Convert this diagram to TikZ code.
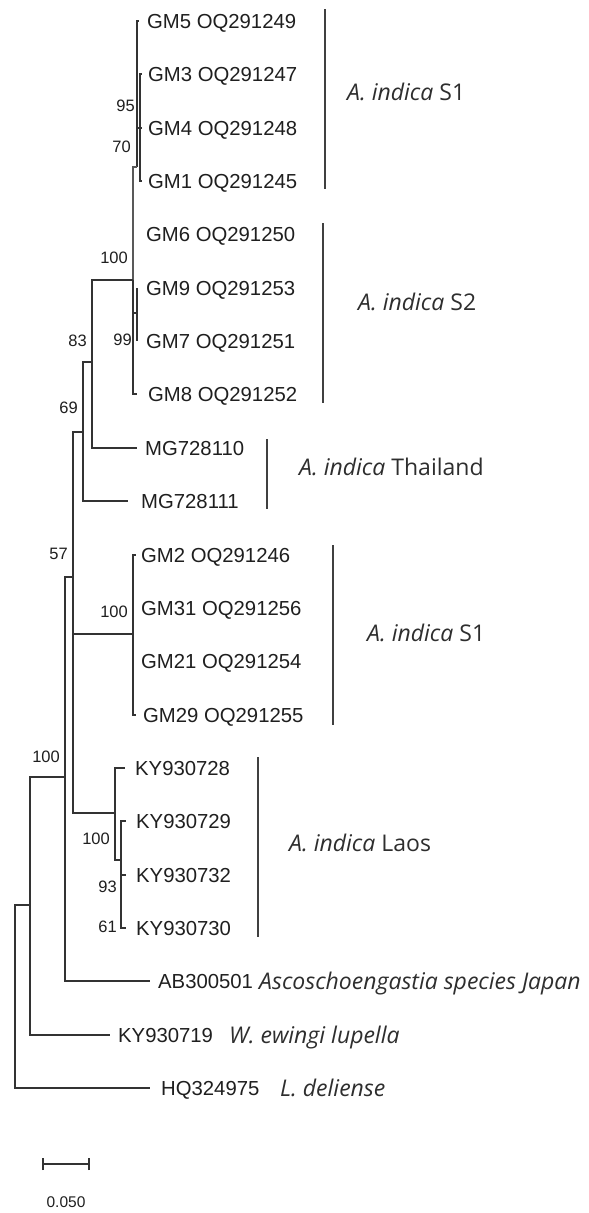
\documentclass[tikz,border=0pt]{standalone}
\usepackage{fontspec}
\setmainfont{Liberation Sans}
\newfontfamily\cladefont{Open Sans}
\begin{document}
\begin{tikzpicture}[x=1pt,y=-1pt,
  br/.style={draw=black!80, line width=1.1pt},
  thickbr/.style={draw=black!80, line width=2.2pt},
  leaf/.style={anchor=west, inner sep=0pt, font=\fontsize{20.3}{20}\selectfont, text height=14.5pt, text depth=0pt, text=black!88},
  boot/.style={anchor=east, inner sep=0pt, font=\fontsize{16.5}{16.5}\selectfont, text height=11.8pt, text depth=0pt, text=black!88},
  clade/.style={anchor=west, inner sep=0pt, font=\cladefont\fontsize{23}{23}\selectfont, text height=16pt, text depth=0pt, text=black!82},
  bar/.style={draw=black!75, line width=1.6pt}]

\fill[white] (0,0) rectangle (589,1213);
\useasboundingbox (0,0) rectangle (589,1213);

% ---------- leaf labels ----------
\node[leaf] (GM5)  at (147,21)  {GM5 OQ291249};
\node[leaf] (GM3)  at (148,74)  {GM3 OQ291247};
\node[leaf] (GM4)  at (148,128) {GM4 OQ291248};
\node[leaf] (GM1)  at (148,181) {GM1 OQ291245};
\node[leaf] (GM6)  at (146,234) {GM6 OQ291250};
\node[leaf] (GM9)  at (146,288) {GM9 OQ291253};
\node[leaf] (GM7)  at (146,341) {GM7 OQ291251};
\node[leaf] (GM8)  at (148,394) {GM8 OQ291252};
\node[leaf] (MG0)  at (145,448) {MG728110};
\node[leaf] (MG1)  at (141,501) {MG728111};
\node[leaf] (GM2)  at (141,555) {GM2 OQ291246};
\node[leaf] (GM31) at (141,608) {GM31 OQ291256};
\node[leaf] (GM21) at (141,661) {GM21 OQ291254};
\node[leaf] (GM29) at (143,715) {GM29 OQ291255};
\node[leaf] (K728) at (135,768) {KY930728};
\node[leaf] (K729) at (136,821) {KY930729};
\node[leaf] (K732) at (136,875) {KY930732};
\node[leaf] (K730) at (136,928) {KY930730};
\node[leaf] (AB)   at (158,981) {AB300501};
\node[leaf] (K719) at (118,1035) {KY930719};
\node[leaf] (HQ)   at (161,1088) {HQ324975};

% ---------- species names ----------
\node[clade] (spJ) at (259,981)  {\itshape Ascoschoengastia species Japan};
\node[clade] (spW) at (229,1035) {\itshape W. ewingi lupella};
\node[clade] (spL) at (280,1088) {\itshape L. deliense};

% ---------- tip coordinates ----------
\coordinate (tGM5) at (139,21);
\coordinate (tGM3) at (142,74);
\coordinate (tGM4) at (142,128);
\coordinate (tGM1) at (142,181);
\coordinate (tGM6) at (133,234);
\coordinate (tGM9) at (137,288);
\coordinate (tGM7) at (137,341);
\coordinate (tGM8) at (137,394);
\coordinate (tMG0) at (137,448);
\coordinate (tMG1) at (128,501);
\coordinate (tGM2) at (136,555);
\coordinate (tGM31) at (133,608);
\coordinate (tGM21) at (133,661);
\coordinate (tGM29) at (136,715);
\coordinate (tK728) at (125,768);
\coordinate (tK729) at (126,821);
\coordinate (tK732) at (126,875);
\coordinate (tK730) at (126,928);
\coordinate (tAB) at (150,981);
\coordinate (tK719) at (110,1035);
\coordinate (tHQ) at (150,1088);

% ---------- internal nodes ----------
\coordinate (nA) at (140,128);
\coordinate (nB) at (137,167);
\coordinate (nC) at (133,280);
\coordinate (nD) at (137,313);
\coordinate (nE) at (92,362);
\coordinate (nF) at (83,432);
\coordinate (nG) at (73,577);
\coordinate (nH) at (133,634);
\coordinate (nL1) at (115,813);
\coordinate (nL2) at (121,860);
\coordinate (nL3) at (121,900);
\coordinate (nI) at (65,777);
\coordinate (nJ) at (30,905);
\coordinate (nR) at (15,996);

% ---------- branches ----------
\draw[br] (nA) |- (tGM3);
\draw[br] (nA) |- (tGM4);
\draw[br] (nA) |- (tGM1);
\draw[br] (nB) |- (tGM5);
\draw[br] (nB) |- (nA);
\draw[draw=black!65, line width=2pt] (nC) |- (nB);
\draw[draw=black!65, line width=2pt] (nC) -- (133,234) coordinate (c6) -- (tGM6);
\draw[br] (nC) |- (nD);
\draw[br] (nD) |- (tGM7);
\draw[thickbr] (nD) |- (tGM9);
\draw[br] (nC) |- (tGM8);
\draw[br] (nE) |- (nC);
\draw[br] (nE) |- (tMG0);
\draw[br] (nF) |- (nE);
\draw[br] (nF) |- (tMG1);
\draw[br] (nG) |- (nF);
\draw[br] (nG) |- (nH);
\draw[br] (nG) |- (nL1);
\draw[thickbr] (nH -| nG) -- (73,723) coordinate (gThick);
\draw[br] (nH) |- (tGM2);
\draw[br] (nH) |- (tGM31);
\draw[br] (nH) |- (tGM21);
\draw[br] (nH) |- (tGM29);
\draw[br] (nL1) |- (tK728);
\draw[br] (nL1) |- (nL2);
\draw[br] (nL2) |- (tK729);
\draw[br] (nL2) |- (nL3);
\draw[br] (nL3) |- (tK732);
\draw[br] (nL3) |- (tK730);
\draw[thickbr] (nL3) -- (nL3 |- tK732);
\draw[br] (nI) |- (nG);
\draw[br] (nI) |- (tAB);
\draw[br] (nJ) |- (nI);
\draw[br] (nJ) |- (tK719);
\draw[br] (nR) |- (nJ);
\draw[br] (nR) |- (tHQ);

% ---------- bootstrap values ----------
\node[boot] (b95)  at (135,106) {95};
\node[boot] (b70)  at (131,147) {70};
\node[boot] (b100a) at (128,258) {100};
\node[boot] (b83)  at (87,341) {83};
\node[boot] (b99)  at (132,340) {99};
\node[boot] (b69)  at (78,408) {69};
\node[boot] (b57)  at (68,554) {57};
\node[boot] (b100b) at (128,612) {100};
\node[boot] (b100c) at (60,757) {100};
\node[boot] (b100d) at (110,839) {100};
\node[boot] (b93)  at (117,887) {93};
\node[boot] (b61)  at (117,927) {61};

% ---------- clade bars and labels ----------
\coordinate (s1a) at (325,9);   \coordinate (s1b) at (325,189);
\draw[bar] (s1a) -- (s1b);
\node[clade] (lS1) at (347,92) {\itshape A. indica\/\upshape{} S1};
\coordinate (s2a) at (323,223); \coordinate (s2b) at (323,403);
\draw[bar] (s2a) -- (s2b);
\node[clade] (lS2) at (358,302) {\itshape A. indica\/\upshape{} S2};
\coordinate (tha) at (267,439); \coordinate (thb) at (267,509);
\draw[bar] (tha) -- (thb);
\node[clade] (lTh) at (299,467) {\itshape A. indica\/\upshape{} Thailand};
\coordinate (s3a) at (333,545); \coordinate (s3b) at (333,725);
\draw[bar] (s3a) -- (s3b);
\node[clade] (lS3) at (367,633) {\itshape A. indica\/\upshape{} S1};
\coordinate (laa) at (258,757); \coordinate (lab) at (258,937);
\draw[bar] (laa) -- (lab);
\node[clade] (lLa) at (289,843) {\itshape A. indica\/\upshape{} Laos};

% ---------- scale bar ----------
\coordinate (sb1) at (43,1164);
\coordinate (sb2) at (89,1164);
\draw[br] (sb1) -- (sb2);
\draw[br] ([yshift=-6pt]sb1) -- ([yshift=6pt]sb1);
\draw[br] ([yshift=-6pt]sb2) -- ([yshift=6pt]sb2);
\node[anchor=center, inner sep=0pt, font=\fontsize{15.5}{15}\selectfont, text=black!88] (sbl) at (66,1202) {0.050};
\end{tikzpicture}
\end{document}
